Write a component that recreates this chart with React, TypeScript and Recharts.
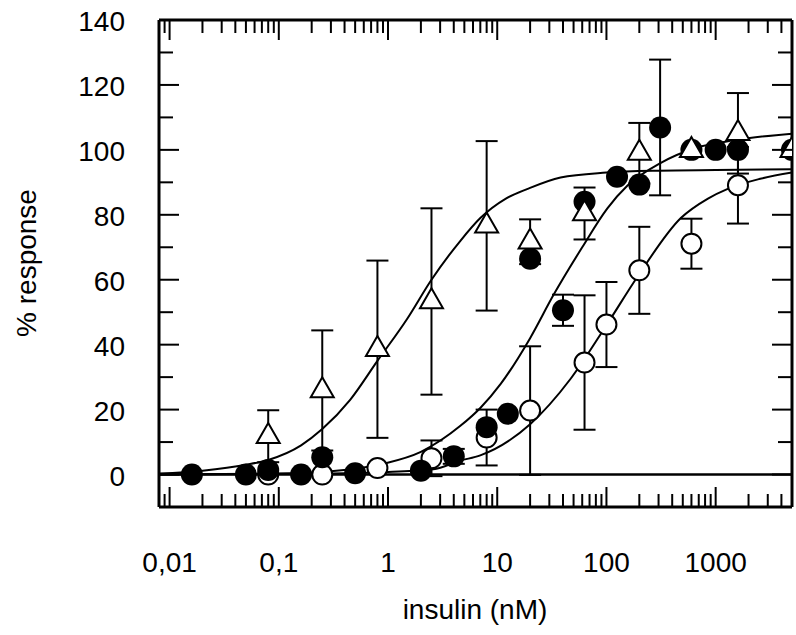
import React from "react";
import {
  ComposedChart,
  XAxis,
  YAxis,
  Scatter,
  Line,
  ErrorBar,
  ReferenceLine,
} from "recharts";

type Pt = { x: number; y: number; err?: number };

// measured points: filled circles, open circles, open triangles
const filledPts: Pt[] = [
  { x: 0.016, y: 0 },
  { x: 0.05, y: 0 },
  { x: 0.08, y: 1.4 },
  { x: 0.16, y: 0 },
  { x: 0.25, y: 5.3 },
  { x: 0.5, y: 0.4 },
  { x: 2, y: 1.2 },
  { x: 4, y: 5.6, err: 2.3 },
  { x: 8, y: 14.6 },
  { x: 12.5, y: 18.7 },
  { x: 20, y: 66.5 },
  { x: 40, y: 50.6, err: 4.8 },
  { x: 63, y: 84 },
  { x: 125, y: 91.7 },
  { x: 200, y: 89.3 },
  { x: 310, y: 106.9, err: 20.9 },
  { x: 600, y: 100 },
  { x: 1000, y: 100 },
  { x: 1600, y: 100 },
  { x: 5000, y: 100 },
];

const openPts: Pt[] = [
  { x: 0.08, y: 0 },
  { x: 0.25, y: 0 },
  { x: 0.8, y: 2 },
  { x: 2.5, y: 5, err: 5.5 },
  { x: 8, y: 11.4, err: 8.6 },
  { x: 20, y: 19.7, err: 19.8 },
  { x: 63, y: 34.5, err: 20.7 },
  { x: 100, y: 46.2, err: 13.1 },
  { x: 200, y: 62.9, err: 13.4 },
  { x: 600, y: 71.1, err: 7.7 },
  { x: 1600, y: 89.1, err: 11.8 },
];

const trianglePts: Pt[] = [
  { x: 0.08, y: 11.8, err: 8 },
  { x: 0.25, y: 25.9, err: 18.5 },
  { x: 0.8, y: 38.6, err: 27.3 },
  { x: 2.5, y: 53.3, err: 28.7 },
  { x: 8, y: 76.6, err: 26.1 },
  { x: 20, y: 71.7, err: 6.9 },
  { x: 63, y: 80.4, err: 8 },
  { x: 200, y: 99, err: 9.3 },
  { x: 600, y: 99.9 },
  { x: 1600, y: 105.1, err: 12.4 },
  { x: 5000, y: 99.9 },
];

// fitted curves
const curveTriangle = [
  { x: 0.008, y: 0.3 },
  { x: 0.02, y: 1.2 },
  { x: 0.05, y: 3 },
  { x: 0.08, y: 4.5 },
  { x: 0.16, y: 9 },
  { x: 0.25, y: 14 },
  { x: 0.45, y: 23 },
  { x: 0.8, y: 35 },
  { x: 1.5, y: 48 },
  { x: 2.5, y: 60 },
  { x: 4.6, y: 72 },
  { x: 7, y: 79 },
  { x: 12, y: 85 },
  { x: 19, y: 88 },
  { x: 38, y: 91.5 },
  { x: 100, y: 93 },
  { x: 300, y: 93.6 },
  { x: 1000, y: 93.8 },
  { x: 5000, y: 94 },
];

const curveFilled = [
  { x: 0.008, y: 0 },
  { x: 0.1, y: 0.3 },
  { x: 0.3, y: 1 },
  { x: 0.9, y: 3.3 },
  { x: 2, y: 7 },
  { x: 4.6, y: 15 },
  { x: 7, y: 20.5 },
  { x: 10.8, y: 28 },
  { x: 20, y: 42 },
  { x: 33, y: 55.5 },
  { x: 60, y: 70 },
  { x: 102, y: 82 },
  { x: 156, y: 89 },
  { x: 315, y: 96 },
  { x: 640, y: 100.5 },
  { x: 1500, y: 103 },
  { x: 5000, y: 105 },
];

const curveOpen = [
  { x: 0.008, y: 0 },
  { x: 0.3, y: 0.3 },
  { x: 1, y: 0.8 },
  { x: 2.6, y: 1.6 },
  { x: 4.6, y: 4.3 },
  { x: 7, y: 5.9 },
  { x: 20, y: 15.5 },
  { x: 47, y: 29.5 },
  { x: 100, y: 46 },
  { x: 193, y: 61 },
  { x: 480, y: 79 },
  { x: 850, y: 85 },
  { x: 1290, y: 88 },
  { x: 2500, y: 91 },
  { x: 5000, y: 93 },
];

const xMajor = [0.01, 0.1, 1, 10, 100, 1000];
const xLabels = ["0,01", "0,1", "1", "10", "100", "1000"];
const xDecades = [0.001, 0.01, 0.1, 1, 10, 100, 1000];
const xMinorMult = [2, 3, 4, 5, 6, 7, 8, 9];
const xDomain = [0.008, 5000];

const yMajor = [0, 20, 40, 60, 80, 100, 120, 140];
const yMinor = [10, 30, 50, 70, 90, 110, 130];
const yDomain = [-10, 140];

const xTicks = [
  ...xMajor,
  ...xDecades.flatMap((d) => xMinorMult.map((m) => Number((d * m).toPrecision(3)))),
].filter((v) => v >= xDomain[0] && v <= xDomain[1]);
const yTicks = [...yMajor, ...yMinor];

const FONT = '"Liberation Sans", Arial, Helvetica, sans-serif';
const FS = 28;

function BottomTick(props: any) {
  const { x, y, payload } = props;
  const i = xMajor.indexOf(payload.value);
  return (
    <g>
      <line x1={x} x2={x} y1={y} y2={y - (i >= 0 ? 20 : 13)} stroke="#000" strokeWidth={2} />
      {i >= 0 && (
        <text x={x} y={y + 65} textAnchor="middle" fontSize={FS} fontFamily={FONT} fill="#000">
          {xLabels[i]}
        </text>
      )}
    </g>
  );
}

function TopTick(props: any) {
  const { x, y, payload } = props;
  const major = xMajor.includes(payload.value);
  return <line x1={x} x2={x} y1={y} y2={y + (major ? 20 : 13)} stroke="#000" strokeWidth={2} />;
}

function LeftTick(props: any) {
  const { x, y, payload } = props;
  const major = yMajor.includes(payload.value);
  return (
    <g>
      <line x1={x} x2={x + (major ? 20 : 14)} y1={y} y2={y} stroke="#000" strokeWidth={2} />
      {major && (
        <text x={x - 34} y={y + 11} textAnchor="end" fontSize={FS} fontFamily={FONT} fill="#000">
          {payload.value}
        </text>
      )}
    </g>
  );
}

function RightTick(props: any) {
  const { x, y, payload } = props;
  const major = yMajor.includes(payload.value);
  return <line x1={x} x2={x - (major ? 20 : 14)} y1={y} y2={y} stroke="#000" strokeWidth={2} />;
}

const FilledDot = (p: any) => <circle cx={p.cx} cy={p.cy} r={11} fill="#000" />;
const OpenDot = (p: any) => (
  <circle cx={p.cx} cy={p.cy} r={10} fill="#fff" stroke="#000" strokeWidth={2} />
);
const TriDot = (p: any) => (
  <polygon
    points={`${p.cx},${p.cy - 13.3} ${p.cx + 11.5},${p.cy + 6.7} ${p.cx - 11.5},${p.cy + 6.7}`}
    fill="#fff"
    stroke="#000"
    strokeWidth={2}
  />
);

const axisLine = { stroke: "#000", strokeWidth: 3 };

export default function App() {
  return (
    <div style={{ position: "absolute", left: 0, top: 0, background: "#fff" }}>
      <ComposedChart width={796} height={635} margin={{ top: 0, right: 0, bottom: 0, left: 0 }}>
        <XAxis
          xAxisId="b"
          dataKey="x"
          type="number"
          scale="log"
          domain={xDomain}
          allowDataOverflow
          ticks={xTicks}
          interval={0}
          tickSize={0}
          tickMargin={0}
          tickLine={false}
          tick={BottomTick}
          axisLine={axisLine}
          height={128}
        />
        <XAxis
          xAxisId="t"
          orientation="top"
          dataKey="x"
          type="number"
          scale="log"
          domain={xDomain}
          allowDataOverflow
          ticks={xTicks}
          interval={0}
          tickSize={0}
          tickMargin={0}
          tickLine={false}
          tick={TopTick}
          axisLine={axisLine}
          height={20}
        />
        <YAxis
          yAxisId="l"
          dataKey="y"
          type="number"
          domain={yDomain}
          allowDataOverflow
          ticks={yTicks}
          interval={0}
          tickSize={0}
          tickMargin={0}
          tickLine={false}
          tick={LeftTick}
          axisLine={axisLine}
          width={159}
        />
        <YAxis
          yAxisId="r"
          orientation="right"
          type="number"
          domain={yDomain}
          allowDataOverflow
          ticks={yTicks}
          interval={0}
          tickSize={0}
          tickMargin={0}
          tickLine={false}
          tick={RightTick}
          axisLine={axisLine}
          width={4}
        />
        <ReferenceLine xAxisId="b" yAxisId="l" y={0} stroke="#000" strokeWidth={2.5} />
        <Line xAxisId="b" yAxisId="l" data={curveTriangle} dataKey="y" type="monotone" stroke="#000" strokeWidth={2} dot={false} activeDot={false} isAnimationActive={false} />
        <Line xAxisId="b" yAxisId="l" data={curveFilled} dataKey="y" type="monotone" stroke="#000" strokeWidth={2} dot={false} activeDot={false} isAnimationActive={false} />
        <Line xAxisId="b" yAxisId="l" data={curveOpen} dataKey="y" type="monotone" stroke="#000" strokeWidth={2} dot={false} activeDot={false} isAnimationActive={false} />
        <Scatter xAxisId="b" yAxisId="l" data={openPts} shape={OpenDot} isAnimationActive={false}>
          <ErrorBar dataKey="err" direction="y" width={11} stroke="#000" strokeWidth={2} isAnimationActive={false} />
        </Scatter>
        <Scatter xAxisId="b" yAxisId="l" data={filledPts} shape={FilledDot} isAnimationActive={false}>
          <ErrorBar dataKey="err" direction="y" width={11} stroke="#000" strokeWidth={2} isAnimationActive={false} />
        </Scatter>
        <Scatter xAxisId="b" yAxisId="l" data={trianglePts} shape={TriDot} isAnimationActive={false}>
          <ErrorBar dataKey="err" direction="y" width={11} stroke="#000" strokeWidth={2} isAnimationActive={false} />
        </Scatter>
        <text x={475} y={619} textAnchor="middle" fontSize={FS} fontFamily={FONT} fill="#000">
          insulin (nM)
        </text>
        <text
          x={36}
          y={263}
          textAnchor="middle"
          fontSize={FS}
          fontFamily={FONT}
          fill="#000"
          transform="rotate(-90, 36, 263)"
        >
          % response
        </text>
      </ComposedChart>
    </div>
  );
}
